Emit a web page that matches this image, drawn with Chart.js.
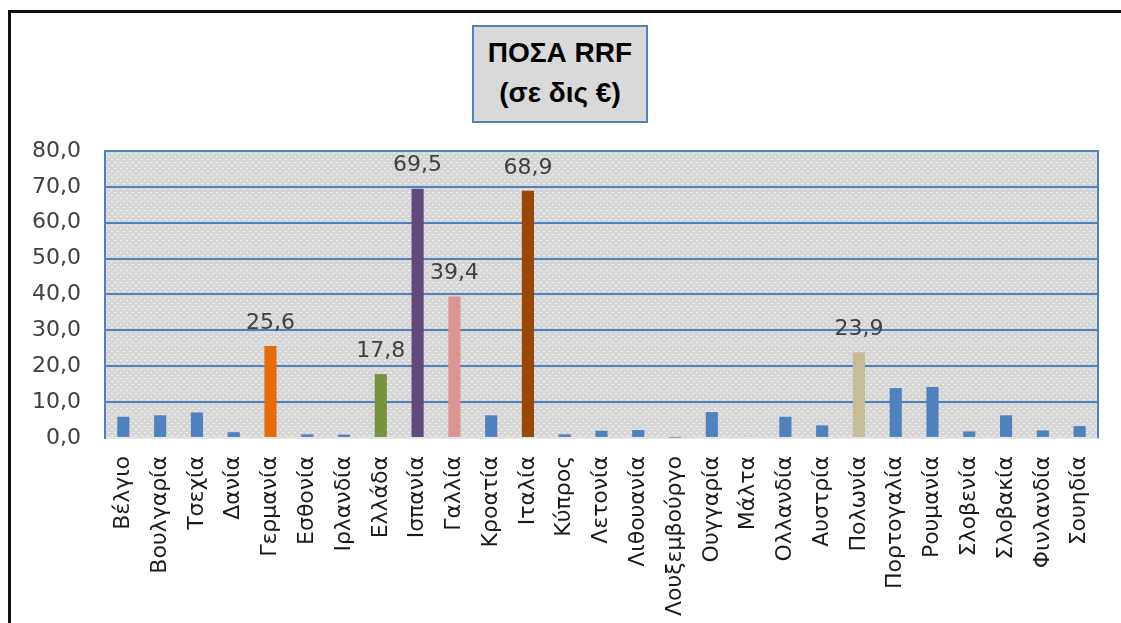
<!DOCTYPE html>
<html>
<head>
<meta charset="utf-8">
<script src="https://cdn.jsdelivr.net/npm/chart.js@4"></script>
<style>
    html, body { margin: 0; padding: 0; background: #fff; }
    #wrap { position: relative; width: 1121px; height: 623px; overflow: hidden; }
    #frame { position: absolute; left: 8px; top: 10px; right: -10px; bottom: -10px;
        border-top: 3px solid #111; border-left: 3px solid #111; }
    #title { position: absolute; left: 472px; top: 25px; width: 172px; height: 88px;
        background: #d9d9d9; border: 2px solid #4f81bd; z-index: 2;
        font: bold 28px "Liberation Sans", Arial, sans-serif; color: #000;
        text-align: center; line-height: 40px; padding-top: 6px; box-sizing: content-box; }
    #chart { position: absolute; left: 0; top: 0; }
</style>
</head>
<body>
<div id="wrap">
    <div id="frame"></div>
    <div id="title">ΠΟΣΑ RRF<br>(σε δις €)</div>
    <canvas id="chart" width="1121" height="626"></canvas>
</div>
<script>
// κατηγορίες και τιμές (δις €)
const countries = ["Βέλγιο","Βουλγαρία","Τσεχία","Δανία","Γερμανία","Εσθονία","Ιρλανδία","Ελλάδα","Ισπανία","Γαλλία",
    "Κροατία","Ιταλία","Κύπρος","Λετονία","Λιθουανία","Λουξεμβούργο","Ουγγαρία","Μάλτα","Ολλανδία","Αυστρία",
    "Πολωνία","Πορτογαλία","Ρουμανία","Σλοβενία","Σλοβακία","Φινλανδία","Σουηδία"];
const amounts = [5.9, 6.3, 7.1, 1.6, 25.6, 1.0, 0.9, 17.8, 69.5, 39.4,
    6.3, 68.9, 1.0, 2.0, 2.2, 0.1, 7.2, 0.3, 5.9, 3.5,
    23.9, 13.9, 14.2, 1.8, 6.3, 2.1, 3.3];
const barColors = ["#4f81bd","#4f81bd","#4f81bd","#4f81bd","#e46c0a","#4f81bd","#4f81bd","#77933c","#604a7b","#d99694",
    "#4f81bd","#984807","#4f81bd","#4f81bd","#4f81bd","#4f81bd","#4f81bd","#4f81bd","#4f81bd","#4f81bd",
    "#c4bd97","#4f81bd","#4f81bd","#4f81bd","#4f81bd","#4f81bd","#4f81bd"];
// ετικέτες τιμών μόνο για τις μεγάλες χώρες
const valueLabels = [null,null,null,null,"25,6",null,null,"17,8","69,5","39,4",
    null,"68,9",null,null,null,null,null,null,null,null,
    "23,9",null,null,null,null,null,null];
const yTicks = [0, 10, 20, 30, 40, 50, 60, 70, 80];

const BLUE = "#4f81bd";
const FONT = "'DejaVu Sans', Verdana, sans-serif";

// γκρι φόντο με λευκές κουκκίδες
function makePattern(ctx) {
    const c = document.createElement("canvas");
    c.width = 6; c.height = 6;
    const p = c.getContext("2d");
    p.fillStyle = "#d6d6d6";
    p.fillRect(0, 0, 6, 6);
    p.fillStyle = "#f2f2f2";
    p.fillRect(0, 0, 2, 1);
    p.fillRect(3, 3, 2, 1);
    return ctx.createPattern(c, "repeat");
}

const areaBg = {
    id: "areaBg",
    beforeDraw(chart) {
        const { ctx, chartArea: a } = chart;
        ctx.save();
        ctx.fillStyle = makePattern(ctx);
        ctx.fillRect(a.left, a.top, a.right - a.left, a.bottom - a.top);
        ctx.restore();
    }
};

const valueText = {
    id: "valueText",
    afterDatasetsDraw(chart) {
        const { ctx } = chart;
        const meta = chart.getDatasetMeta(0);
        ctx.save();
        ctx.font = "22px " + FONT;
        ctx.fillStyle = "#404040";
        ctx.textAlign = "center";
        ctx.textBaseline = "bottom";
        meta.data.forEach((bar, i) => {
            if (valueLabels[i]) ctx.fillText(valueLabels[i], bar.x, bar.y - 12);
        });
        ctx.restore();
    }
};

new Chart(document.getElementById("chart"), {
    type: "bar",
    data: {
        labels: countries,
        datasets: [{
            data: amounts,
            backgroundColor: barColors,
            borderWidth: 0,
            barPercentage: 0.33,
            categoryPercentage: 1
        }]
    },
    options: {
        responsive: false,
        animation: false,
        layout: { padding: { top: 151, left: 8, right: 23, bottom: 0 } },
        plugins: { legend: { display: false }, tooltip: { enabled: false } },
        scales: {
            x: {
                grid: { display: false },
                border: { color: "#e4e4e4", width: 2 },
                ticks: {
                    autoSkip: false,
                    maxRotation: 90,
                    minRotation: 90,
                    padding: 10,
                    color: "#1a1a1a",
                    font: { family: FONT, size: 22 }
                }
            },
            y: {
                min: 0,
                max: 80,
                afterBuildTicks(axis) { axis.ticks = yTicks.map(v => ({ value: v })); },
                grid: {
                    color: c => c.tick && c.tick.value === 0 ? "rgba(0,0,0,0)" : BLUE,
                    lineWidth: 2,
                    drawTicks: false
                },
                border: { color: BLUE, width: 2 },
                ticks: {
                    padding: 24,
                    color: "#404040",
                    font: { family: FONT, size: 22 },
                    callback: v => v.toFixed(1).replace(".", ",")
                }
            },
            y2: {
                position: "right",
                min: 0,
                max: 80,
                grid: { display: false, drawTicks: false },
                border: { color: BLUE, width: 2 },
                ticks: { display: false }
            }
        }
    },
    plugins: [areaBg, valueText]
});
</script>
</body>
</html>
